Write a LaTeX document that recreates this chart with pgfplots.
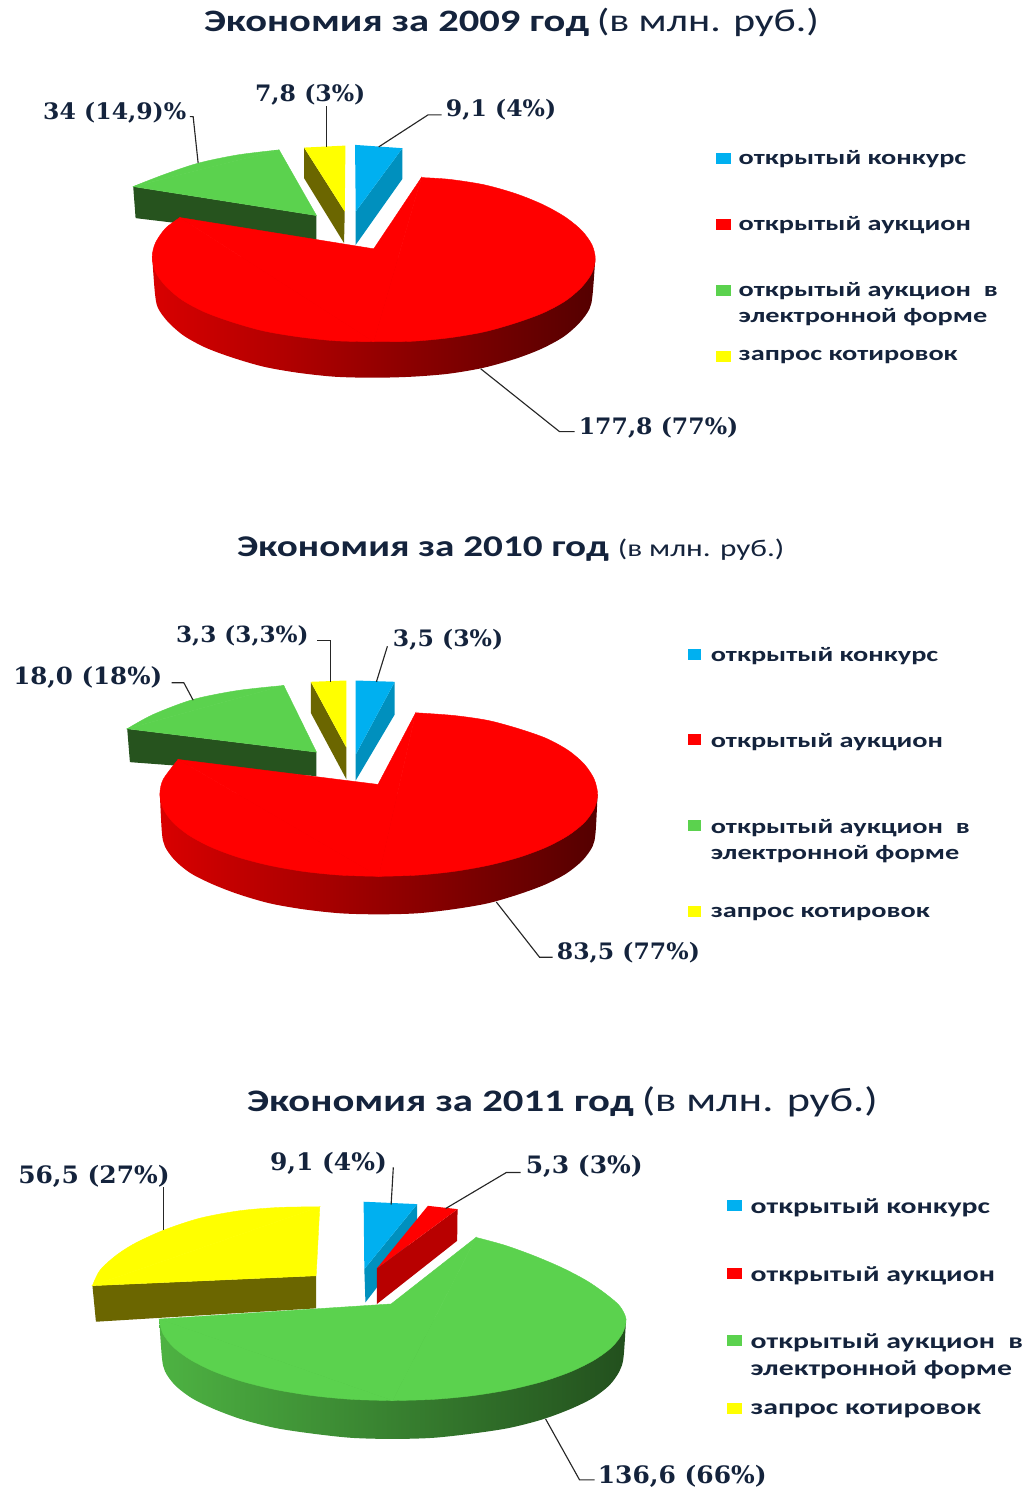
\documentclass[border=0pt]{standalone}
\usepackage{fontspec}
\setmainfont{Carlito}
\newfontfamily\tfont[FakeStretch=1.3]{Carlito}
\newfontfamily\gfont[FakeStretch=1.37]{Carlito}
\newfontfamily\lfont[FakeStretch=1.04]{DejaVu Serif}
\usepackage{pgfplots}
\pgfplotsset{compat=1.18}
\definecolor{cblue}{HTML}{00B0F0}
\definecolor{cbluedk}{HTML}{0090BE}
\definecolor{cred}{HTML}{FF0000}
\definecolor{credsd}{HTML}{B80000}
\definecolor{cgreen}{HTML}{5BD24E}
\definecolor{cgreendk}{HTML}{26531E}
\definecolor{cyel}{HTML}{FFFF00}
\definecolor{cyeldk}{HTML}{6B6600}
\definecolor{txt}{HTML}{14233C}
\tikzset{
 ttl/.style={anchor=base west,inner sep=0pt,text=txt,font=\tfont\bfseries\fontsize{#1}{26}\selectfont},
 ttr/.style={anchor=base west,inner sep=0pt,text=txt,font=\tfont\fontsize{#1}{26}\selectfont},
 leg/.style={anchor=west,inner sep=0pt,text=txt,font=\gfont\bfseries\fontsize{#1}{18}\selectfont},
 leg/.default=15.5,
 lab/.style={anchor=west,inner sep=0pt,text=txt,font=\lfont\bfseries\fontsize{#1}{20}\selectfont},
 lab/.default=17,
 ldr/.style={draw=black!85,line width=0.85pt},
 sfill/.style={fill=#1,draw=#1,line width=0.3pt}
}
\begin{document}
\begin{tikzpicture}
\begin{axis}[
 scale only axis,width=768pt,height=1115.25pt,
 xmin=0,xmax=1024,ymin=0,ymax=1487,y dir=reverse,
 axis lines=none,clip=false]
\path (axis cs:0,0) rectangle (axis cs:1024,1487);
%%% 2009
\addplot[fill=cgreendk,draw=none] coordinates {(133.3,186.7)(135.7,218.3)(316.7,240)(316.7,215.7)} --cycle;
\addplot[sfill=cgreen] coordinates {(279.3,150)(316.7,215.7)(133.3,186.7)} --cycle;
\addplot[sfill=cgreen,smooth] coordinates {(279.3,150)(238,155)(198.3,163.3)(163.3,175)(133.3,186.7)} --cycle;
\addplot[fill=cyeldk,draw=none] coordinates {(304.3,147.7)(345,211.7)(344.3,243.3)(304.3,178.3)} --cycle;
\addplot[fill=cyel,draw=none] coordinates {(304.3,147.7)(345.7,145.7)(345,211.7)} --cycle;
\addplot[fill=cbluedk,draw=none] coordinates {(402.7,148.3)(356,211.7)(356,245)(402.7,179)} --cycle;
\addplot[fill=cblue,draw=none] coordinates {(355.3,145)(402.7,148.3)(356,211.7)} --cycle;
\addplot[left color=red!85!black,right color=red!33!black,draw=none,smooth] coordinates {(152.3,257)(155,293)(158,308)(168,322)(184,336)(206,348)(233,358)(264,367)(298,373)(335,377)(374,378)(412,377)(449,374)(484,368)(516,359)(542,349)(564,337)(580,323)(590,309)(593,295)(595.7,259)} --cycle;
\addplot[sfill=cred] coordinates {(374,249)(421.7,177.7)(374,342)(180,217.7)} --cycle;
\addplot[sfill=cred,smooth] coordinates {(421.7,177.7)(449.8,179.5)(484.9,185)(516.6,194)(543.8,205)(566,217.5)(582.4,231)(592.4,245)(595.7,259)(592.4,273)(582.4,287)(566,301)(543.8,313)(516.6,323)(484.9,332)(449.8,338)(412.6,341.5)(374,342)} --cycle;
\addplot[sfill=cred,smooth] coordinates {(374,342)(335.4,341)(298.2,337)(263.1,331)(231.4,322)(204.2,312)(182,300)(165.6,286)(155.6,272)(152.3,257)(155.6,243)(165.6,228.5)(180,217.7)} --cycle;
\addplot[ldr] coordinates {(379,147)(428.3,115)(442,115)};
\addplot[ldr] coordinates {(326.7,146.7)(326.7,106)};
\addplot[ldr] coordinates {(198.3,163.3)(193.3,116.7)(190,116.7)};
\addplot[ldr] coordinates {(481,369)(560,432)(575,432)};
\node[lab] at (axis cs:43,113) {34 (14,9)\%};
\node[lab] at (axis cs:255,95) {7,8 (3\%)};
\node[lab] at (axis cs:446,110) {9,1 (4\%)};
\node[lab] at (axis cs:579,428) {177,8 (77\%)};
\node[ttl=23.4] at (axis cs:204,32) {Экономия за 2009 год};
\node[ttr=24] at (axis cs:597,32) {(в млн. руб.)};
\addplot[fill=cblue,draw=none] coordinates {(717,153)(732,153)(732,164)(717,164)} --cycle;
\addplot[fill=cred,draw=none] coordinates {(717,219)(732,219)(732,230)(717,230)} --cycle;
\addplot[fill=cgreen,draw=none] coordinates {(717,285)(732,285)(732,296)(717,296)} --cycle;
\addplot[fill=cyel,draw=none] coordinates {(717,351)(732,351)(732,362)(717,362)} --cycle;
\node[leg] at (axis cs:739,159.5) {открытый конкурс};
\node[leg] at (axis cs:739,225.5) {открытый аукцион};
\node[leg] at (axis cs:739,291.5) {открытый аукцион\ \ в};
\node[leg] at (axis cs:739,317.5) {электронной форме};
\node[leg] at (axis cs:739,357.5) {запрос котировок};
%%% 2010
\addplot[fill=cgreendk,draw=none] coordinates {(127.3,729.3)(130,762.7)(316.7,776.7)(316.7,752.7)} --cycle;
\addplot[sfill=cgreen] coordinates {(284,686)(316.7,752.7)(127.3,729.3)} --cycle;
\addplot[sfill=cgreen,smooth] coordinates {(284,686)(238,691)(193.3,700)(153.3,715)(127.3,729.3)} --cycle;
\addplot[fill=cyeldk,draw=none] coordinates {(311,682.3)(346.7,748.3)(346.7,780)(311,713.3)} --cycle;
\addplot[fill=cyel,draw=none] coordinates {(311,682.3)(346.7,681)(346.7,748.3)} --cycle;
\addplot[fill=cbluedk,draw=none] coordinates {(395,682.3)(356,755)(356,781)(395,715)} --cycle;
\addplot[fill=cblue,draw=none] coordinates {(356,681)(395,682.3)(356,755)} --cycle;
\addplot[left color=red!85!black,right color=red!33!black,draw=none,smooth] coordinates {(160,795)(162,833)(165,847)(175,861)(191,874)(213,885)(239,895)(270,904)(304,910)(341,914)(379,915)(417,914)(453,910)(488,904)(519,895)(546,885)(567,874)(583,861)(593,847)(596,833)(598,795)} --cycle;
\addplot[sfill=cred] coordinates {(378.3,785)(416,713.3)(379,877)(178.3,760)} --cycle;
\addplot[sfill=cred,smooth] coordinates {(416,713.3)(453.9,716)(488.5,721)(519.8,729.5)(546.8,739)(568.7,751)(584.9,765)(594.7,780)(598,795)(594.7,809.2)(584.9,823)(568.7,836)(546.8,847.7)(519.8,857.8)(488.5,866)(453.9,872.1)(417,875.8)(379,877)} --cycle;
\addplot[sfill=cred,smooth] coordinates {(379,877)(341,875.8)(304.1,872.1)(269.5,866)(238.2,857.8)(211.2,847.7)(189.3,836)(173.1,823)(163.3,809.2)(160,795)(163.3,780)(178.3,760)} --cycle;
\addplot[ldr] coordinates {(376.7,682.3)(387.7,646.7)};
\addplot[ldr] coordinates {(330.7,682.3)(330.7,640.7)(317.3,640.7)};
\addplot[ldr] coordinates {(193.3,700.7)(184,683.3)(171.7,683.3)};
\addplot[ldr] coordinates {(496.7,902.7)(540,958)(553,958)};
\node[lab=16.7] at (axis cs:176,636) {3,3 (3,3\%)};
\node[lab] at (axis cs:393,640) {3,5 (3\%)};
\node[lab=17.7] at (axis cs:13,678) {18,0 (18\%)};
\node[lab] at (axis cs:557,953) {83,5 (77\%)};
\node[ttl=22.6] at (axis cs:237,557) {Экономия за 2010 год};
\node[ttr=18] at (axis cs:618,557) {(в млн. руб.)};
\addplot[fill=cblue,draw=none] coordinates {(688,649)(702,649)(702,660)(688,660)} --cycle;
\addplot[fill=cred,draw=none] coordinates {(688,735)(702,735)(702,746)(688,746)} --cycle;
\addplot[fill=cgreen,draw=none] coordinates {(688,821)(702,821)(702,832)(688,832)} --cycle;
\addplot[fill=cyel,draw=none] coordinates {(688,907)(702,907)(702,918)(688,918)} --cycle;
\node[leg] at (axis cs:711,656.5) {открытый конкурс};
\node[leg] at (axis cs:711,742.5) {открытый аукцион};
\node[leg] at (axis cs:711,828.5) {открытый аукцион\ \ в};
\node[leg] at (axis cs:711,854.5) {электронной форме};
\node[leg] at (axis cs:711,914.5) {запрос котировок};
%%% 2011
\addplot[fill=cyeldk,draw=none] coordinates {(92.5,1286.6)(96,1322.7)(316.4,1309.3)(316.4,1276.7)} --cycle;
\addplot[sfill=cyel] coordinates {(320,1207.7)(316.4,1276.7)(92.5,1286.6)} --cycle;
\addplot[sfill=cyel,smooth] coordinates {(320,1207.7)(280,1208.3)(240,1211.6)(200,1219.1)(164,1231)(135,1244.3)(115.7,1256.7)(100,1271.3)(92.5,1286.6)} --cycle;
\addplot[fill=cbluedk,draw=none] coordinates {(417.5,1205)(364.6,1270)(365.7,1303.3)(376,1290)(417.5,1234)} --cycle;
\addplot[fill=cblue,draw=none] coordinates {(363.9,1202.6)(417.5,1205)(364.6,1270)} --cycle;
\addplot[fill=credsd,draw=none] coordinates {(457.9,1210)(377.1,1269.4)(377.1,1305)(457.5,1241.7)} --cycle;
\addplot[fill=cred,draw=none] coordinates {(428.2,1206.7)(457.9,1210)(377.1,1269.4)} --cycle;
\addplot[left color=cgreen!85!black,right color=cgreen!38!black,draw=none,smooth] coordinates {(159.3,1320)(162,1358.1)(165,1372.1)(175,1386.1)(192,1399.2)(215,1410.4)(243,1420.7)(276,1429.1)(313,1434.7)(352,1438.9)(393,1440)(433,1438.9)(472,1434.7)(509,1429.1)(542,1420.7)(570,1410.4)(593,1399.2)(610,1386.1)(620,1372.1)(624,1358.1)(626.5,1320)} --cycle;
\addplot[sfill=cgreen] coordinates {(391.4,1304.9)(476.4,1238.3)(392.9,1401.6)(159.3,1320)} --cycle;
\addplot[sfill=cgreen,smooth] coordinates {(476.4,1238.3)(505,1246.1)(533.6,1256.4)(562,1268.5)(587,1281.6)(606,1294.7)(620,1306.8)(626.5,1320)(623,1334)(612.5,1347.9)(595.2,1360.7)(571.8,1372.4)(543.1,1382.5)(509.7,1390.7)(472.8,1396.7)(433.5,1400.4)(392.9,1401.6)} --cycle;
\addplot[sfill=cgreen,smooth] coordinates {(392.9,1401.6)(352.3,1400.4)(313,1396.7)(276.1,1390.7)(242.7,1382.5)(214,1372.4)(190.6,1360.7)(173.3,1347.9)(162.8,1334)(159.3,1320)} --cycle;
\addplot[ldr] coordinates {(391.4,1205.6)(393.6,1168.3)};
\addplot[ldr] coordinates {(446,1209.4)(506.8,1173.3)(521,1173.3)};
\addplot[ldr] coordinates {(164,1231)(164,1188.3)};
\addplot[ldr] coordinates {(546,1420)(580,1481)(595,1481)};
\node[lab=18] at (axis cs:270,1164) {9,1 (4\%)};
\node[lab=18] at (axis cs:526,1167) {5,3 (3\%)};
\node[lab=18] at (axis cs:18,1177) {56,5 (27\%)};
\node[lab=18] at (axis cs:598,1477) {136,6 (66\%)};
\node[ttl=23.5] at (axis cs:247,1112) {Экономия за 2011 год};
\node[ttr=25.5] at (axis cs:642,1112) {(в млн. руб.)};
\addplot[fill=cblue,draw=none] coordinates {(728,1201)(743,1201)(743,1212)(728,1212)} --cycle;
\addplot[fill=cred,draw=none] coordinates {(728,1269)(743,1269)(743,1280)(728,1280)} --cycle;
\addplot[fill=cgreen,draw=none] coordinates {(728,1336)(743,1336)(743,1347)(728,1347)} --cycle;
\addplot[fill=cyel,draw=none] coordinates {(728,1404)(743,1404)(743,1415)(728,1415)} --cycle;
\node[leg=16.3] at (axis cs:751,1208.5) {открытый конкурс};
\node[leg=16.3] at (axis cs:751,1276.5) {открытый аукцион};
\node[leg=16.3] at (axis cs:751,1343.5) {открытый аукцион\ \ в};
\node[leg=16.3] at (axis cs:751,1370.5) {электронной форме};
\node[leg=16.3] at (axis cs:751,1411.5) {запрос котировок};
\end{axis}
\end{tikzpicture}
\end{document}
